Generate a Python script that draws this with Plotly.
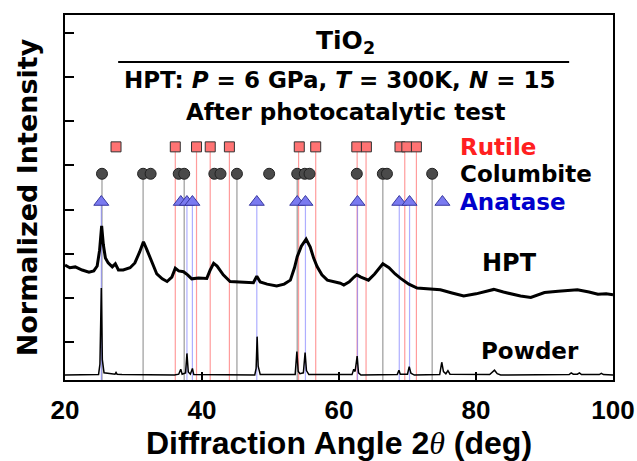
import plotly.graph_objects as go

# ---------------- data ----------------
hpt_x = [20.0, 20.7, 21.5, 22.5, 23.5, 24.2, 24.7, 25.05, 25.35, 25.6, 25.9, 26.3, 26.9, 27.35, 27.8,
         28.5, 29.5, 30.2, 30.9, 31.45, 31.9, 32.4, 32.9, 33.4, 34.2, 34.9, 35.6, 36.1, 36.6, 37.3,
         37.9, 38.5, 39.5, 40.7, 41.2, 41.7, 42.2, 43.1, 44.1, 45.5, 47.5, 48.0, 48.5, 49.5, 50.9,
         52.0, 52.9, 53.5, 53.9, 54.5, 55.2, 55.8, 56.3, 56.8, 57.5, 58.3, 59.3, 60.2, 60.7, 61.5,
         62.2, 62.6, 63.2, 64.3, 65.2, 66.4, 67.3, 68.2, 69.0, 70.2, 71.4, 73.0, 74.8, 76.5, 78.2,
         80.0, 81.5, 82.6, 84.0, 85.1, 86.5, 88.0, 89.0, 90.0, 92.0, 94.8, 96.5, 97.8, 99.0, 100.0]
hpt_y = [2.74, 2.68, 2.70, 2.63, 2.58, 2.61, 2.72, 3.08, 3.63, 3.20, 2.90, 2.79, 2.70, 2.77, 2.63,
         2.63, 2.68, 2.79, 3.04, 3.27, 3.11, 2.92, 2.72, 2.54, 2.43, 2.37, 2.47, 2.67, 2.61, 2.59,
         2.52, 2.43, 2.45, 2.44, 2.63, 2.78, 2.72, 2.52, 2.37, 2.36, 2.34, 2.49, 2.36, 2.31, 2.27,
         2.31, 2.40, 2.68, 2.93, 3.17, 3.33, 3.15, 2.90, 2.71, 2.52, 2.40, 2.36, 2.33, 2.29, 2.36,
         2.47, 2.52, 2.47, 2.40, 2.54, 2.77, 2.68, 2.54, 2.44, 2.31, 2.22, 2.20, 2.18, 2.11, 2.04,
         2.09, 2.15, 2.19, 2.13, 2.09, 2.04, 2.01, 2.06, 2.12, 2.15, 2.18, 2.13, 2.08, 2.09, 2.07]

powder_x = [20.0, 24.9, 25.1, 25.3, 25.45, 25.7, 27.3, 27.45, 27.6, 28.3, 36.0, 36.6, 36.9, 37.1, 37.6,
            37.8, 38.0, 38.3, 38.6, 38.8, 47.7, 47.9, 48.05, 48.2, 48.5, 53.6, 53.85, 54.05, 54.3, 54.8,
            55.05, 55.25, 55.6, 61.9, 62.15, 62.35, 62.65, 62.85, 63.2, 68.5, 68.75, 68.95, 70.0, 70.25,
            70.5, 71.0, 74.7, 75.0, 75.25, 75.6, 75.9, 76.2, 82.0, 82.4, 82.7, 83.1, 83.6, 93.6, 93.9,
            94.2, 94.8, 95.1, 95.4, 98.0, 98.3, 98.6, 100.0]
powder_y = [0.25, 0.26, 0.50, 2.22, 0.60, 0.30, 0.27, 0.31, 0.27, 0.26, 0.25, 0.27, 0.38, 0.27, 0.30,
            0.74, 0.32, 0.27, 0.40, 0.26, 0.25, 0.40, 1.12, 0.45, 0.26, 0.26, 0.78, 0.33, 0.28, 0.30,
            0.76, 0.35, 0.26, 0.26, 0.38, 0.33, 0.68, 0.30, 0.25, 0.26, 0.36, 0.27, 0.27, 0.44,
            0.29, 0.25, 0.26, 0.54, 0.33, 0.28, 0.35, 0.27, 0.26, 0.33, 0.36, 0.28, 0.25, 0.26, 0.30,
            0.27, 0.27, 0.30, 0.26, 0.26, 0.29, 0.26, 0.25]

# reference phase positions (2theta, deg)
rutile_pos = [27.45, 36.1, 39.2, 41.2, 44.0, 54.2, 56.6, 62.6, 64.0, 68.9, 69.9, 71.3]
columbite_pos = [25.4, 31.4, 32.5, 36.6, 37.4, 41.8, 42.7, 45.1, 49.8, 53.9, 55.0, 55.7, 62.6, 66.4, 67.0, 73.6]
anatase_pos = [25.3, 36.9, 37.8, 38.6, 48.0, 53.9, 55.1, 62.7, 68.8, 70.3, 75.1]

# which reference positions carry a drop line
rutile_lines = [36.1, 39.2, 41.2, 44.0, 54.1, 56.6, 62.65, 63.95, 69.6, 71.3]
columbite_lines = [25.4, 31.4, 37.4, 45.1, 53.9, 66.4, 73.6]
anatase_lines = [25.3, 37.8, 38.6, 48.0, 55.1, 62.7, 68.8, 70.3]

# marker row levels (normalized intensity units)
rutile_level = 5.42
columbite_level = 4.81
anatase_level = 4.17

y_min, y_max = 0.138, 8.407
y_ticks = [1, 2, 3, 4, 5, 6, 7, 8]
x_ticks = [20, 40, 60, 80, 100]

TXT = "DejaVu Sans"
ARIAL = "Liberation Sans, Arial"

fig = go.Figure()


def drop_lines(xs, top, color):
    lx, ly = [], []
    for x in xs:
        lx += [x, x, None]
        ly += [y_min, top, None]
    fig.add_trace(go.Scatter(x=lx, y=ly, mode="lines",
                             line=dict(color=color, width=1.2), hoverinfo="skip"))


drop_lines(columbite_lines, columbite_level, "rgba(120,120,120,0.75)")
drop_lines(rutile_lines, rutile_level, "rgba(255,90,90,0.6)")
drop_lines(anatase_lines, anatase_level, "rgba(120,120,255,0.6)")

fig.add_trace(go.Scatter(x=hpt_x, y=hpt_y, mode="lines", name="HPT",
                         line=dict(color="black", width=3)))
fig.add_trace(go.Scatter(x=powder_x, y=powder_y, mode="lines", name="Powder",
                         line=dict(color="black", width=1.5)))

fig.add_trace(go.Scatter(x=rutile_pos, y=[rutile_level] * len(rutile_pos), mode="markers",
                         name="Rutile",
                         marker=dict(symbol="square", size=10, color="#ff7373",
                                     line=dict(color="#333333", width=1))))
fig.add_trace(go.Scatter(x=columbite_pos, y=[columbite_level] * len(columbite_pos), mode="markers",
                         name="Columbite",
                         marker=dict(symbol="circle", size=11, color="#4a4a4a",
                                     line=dict(color="#222222", width=1))))
fig.add_trace(go.Scatter(x=anatase_pos, y=[anatase_level] * len(anatase_pos), mode="markers",
                         name="Anatase",
                         marker=dict(symbol="triangle-up", size=13, color="#7a7af0",
                                     line=dict(color="#3a3aa0", width=1))))

ann = []


def add_text(text, x, y, size, color="black", xanchor="center", family=TXT):
    ann.append(dict(text=text, x=x, y=y, xref="paper", yref="paper", showarrow=False,
                    xanchor=xanchor, yanchor="middle",
                    font=dict(family=family, size=size, color=color, weight="bold")))


add_text("TiO<sub>2</sub>", 0.511, 0.926, 25)
add_text("HPT: <i>P</i> = 6 GPa, <i>T</i> = 300K, <i>N</i> = 15", 0.5, 0.822, 23)
add_text("After photocatalytic test", 0.513, 0.734, 23)
add_text("Rutile", 0.717, 0.638, 23, color="#ff2020", xanchor="left")
add_text("Columbite", 0.717, 0.564, 23, xanchor="left")
add_text("Anatase", 0.717, 0.488, 23, color="#0000cc", xanchor="left")
add_text("HPT", 0.812, 0.321, 24)
add_text("Powder", 0.849, 0.080, 23)

fig.update_layout(
    width=637, height=461,
    margin=dict(l=65, r=24, t=15, b=81),
    plot_bgcolor="white", paper_bgcolor="white",
    showlegend=False,
    annotations=ann,
    shapes=[dict(type="line", xref="paper", yref="paper", x0=0.097, x1=0.92, y0=0.871, y1=0.871,
                 line=dict(color="black", width=2))],
)

fig.update_xaxes(
    range=[20, 100], tickvals=x_ticks, ticks="inside", ticklen=8, tickwidth=2, tickcolor="black",
    showline=True, linecolor="black", linewidth=2, mirror=True, showgrid=False, zeroline=False,
    automargin=False,
    tickfont=dict(family=ARIAL, size=26, color="black", weight="bold"),
    ticklabelstandoff=6,
    title=dict(text="Diffraction Angle 2<span style=\"font-family:'Liberation Serif';font-style:italic;font-weight:normal\">θ</span> (deg)",
               font=dict(family=ARIAL, size=32, color="black", weight="bold"), standoff=12),
)
fig.update_yaxes(
    range=[y_min, y_max], tickvals=y_ticks, ticks="inside", ticklen=9, tickwidth=2, tickcolor="black",
    showticklabels=False, automargin=False,
    showline=True, linecolor="black", linewidth=2, mirror=True, showgrid=False, zeroline=False,
    title=dict(text="Normalized Intensity",
               font=dict(family=TXT, size=27, color="black", weight="bold"), standoff=18),
)

fig.write_html("out.html")
